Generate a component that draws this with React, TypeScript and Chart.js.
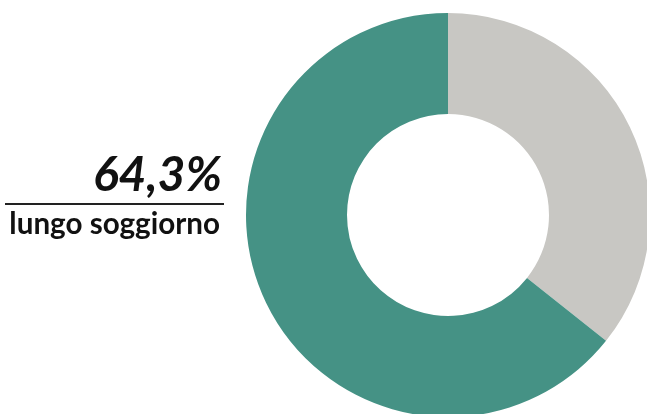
import React, { useEffect, useRef } from "react";
import { Chart, registerables } from "chart.js";

Chart.register(...registerables);

const categories = ["breve soggiorno", "lungo soggiorno"];
const values = [35.7, 64.3];
const colors = ["#c8c7c3", "#459285"];
const headline = "64,3%";
const subtitle = "lungo soggiorno";

export default function App() {
  const ref = useRef<HTMLCanvasElement | null>(null);
  useEffect(() => {
    document.body.style.margin = "0";
    const chart = new Chart(ref.current!, {
      type: "doughnut",
      data: {
        labels: categories,
        datasets: [
          {
            data: values,
            backgroundColor: colors,
            borderWidth: 0,
          },
        ],
      },
      options: {
        animation: false,
        responsive: false,
        maintainAspectRatio: false,
        cutout: "50%",
        rotation: 0,
        layout: { padding: { left: 246, top: 13, right: 10, bottom: 13 } },
        plugins: { legend: { display: false }, tooltip: { enabled: false } },
      },
    });
    return () => chart.destroy();
  }, []);
  return (
    <div
      style={{
        position: "fixed",
        left: 0,
        top: 0,
        width: 647,
        height: 414,
        overflow: "hidden",
        background: "#fff",
      }}
    >
      <canvas
        ref={ref}
        width={660}
        height={430}
        style={{ position: "absolute", left: 0, top: 0, width: 660, height: 430 }}
      />
      <div
        style={{
          position: "absolute",
          right: 647 - 222,
          top: 143,
          fontFamily: "Lato",
          fontWeight: 700,
          fontStyle: "italic",
          fontSize: 48,
          lineHeight: "60px",
          color: "#111",
          whiteSpace: "nowrap",
        }}
      >
        {headline}
      </div>
      <div
        style={{
          position: "absolute",
          left: 5,
          top: 203,
          width: 219,
          height: 2,
          background: "#222",
        }}
      />
      <div
        style={{
          position: "absolute",
          right: 647 - 220,
          top: 208,
          fontFamily: "Lato",
          fontWeight: 700,
          fontSize: 29.6,
          lineHeight: "30px",
          color: "#111",
          whiteSpace: "nowrap",
        }}
      >
        {subtitle}
      </div>
    </div>
  );
}
